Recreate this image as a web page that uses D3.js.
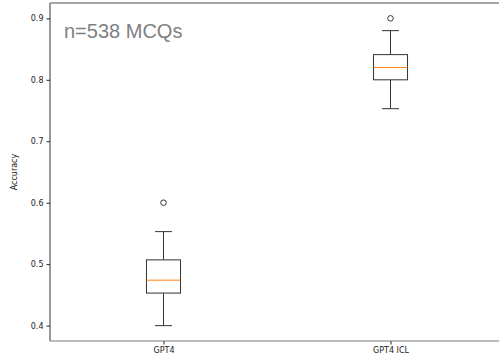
<!DOCTYPE html>
<html>
<head>
<meta charset="utf-8">
<script src="https://cdn.jsdelivr.net/npm/d3@7"></script>
<style>
  body { margin: 0; background: #fff; }
  svg { display: block; }
</style>
</head>
<body>
<div id="chart"></div>
<script>
// Box plot data
var categories = ["GPT4", "GPT4 ICL"];
var q1 = [0.453, 0.800];
var medians = [0.474, 0.820];
var q3 = [0.507, 0.841];
var whiskerLow = [0.400, 0.753];
var whiskerHigh = [0.553, 0.880];
var outliers = [[0.600], [0.900]];
var yTicks = [0.4, 0.5, 0.6, 0.7, 0.8, 0.9];

var W = 499, H = 360;
var margin = { top: 3, right: -5, bottom: 19, left: 50 };
var width = W - margin.left - margin.right,
  height = H - margin.top - margin.bottom;

var svg = d3.select("#chart")
  .append("svg")
  .attr("width", W)
  .attr("height", H)
  .append("g")
  .attr("transform", "translate(" + margin.left + "," + margin.top + ")");

// positions 1..n like matplotlib, xlim 0.5..n+0.5
var x = d3.scaleLinear()
  .domain([0.5, categories.length + 0.5])
  .range([0, width]);

var y = d3.scaleLinear()
  .domain([0.375, 0.925])
  .range([height, 0]);

var boxW = x(1.15) - x(1);
var capW = boxW / 2;
var ink = "#333";

var boxes = svg.selectAll(".box")
  .data(categories)
  .enter()
  .append("g")
  .attr("class", "box");

// whiskers
boxes.append("line")
  .attr("x1", (d, i) => x(i + 1)).attr("x2", (d, i) => x(i + 1))
  .attr("y1", (d, i) => y(q3[i])).attr("y2", (d, i) => y(whiskerHigh[i]))
  .attr("stroke", ink).attr("stroke-width", 1);
boxes.append("line")
  .attr("x1", (d, i) => x(i + 1)).attr("x2", (d, i) => x(i + 1))
  .attr("y1", (d, i) => y(q1[i])).attr("y2", (d, i) => y(whiskerLow[i]))
  .attr("stroke", ink).attr("stroke-width", 1);

// caps
boxes.append("line")
  .attr("x1", (d, i) => x(i + 1) - capW / 2).attr("x2", (d, i) => x(i + 1) + capW / 2)
  .attr("y1", (d, i) => y(whiskerHigh[i])).attr("y2", (d, i) => y(whiskerHigh[i]))
  .attr("stroke", ink).attr("stroke-width", 1);
boxes.append("line")
  .attr("x1", (d, i) => x(i + 1) - capW / 2).attr("x2", (d, i) => x(i + 1) + capW / 2)
  .attr("y1", (d, i) => y(whiskerLow[i])).attr("y2", (d, i) => y(whiskerLow[i]))
  .attr("stroke", ink).attr("stroke-width", 1);

// box
boxes.append("rect")
  .attr("x", (d, i) => x(i + 1) - boxW / 2)
  .attr("y", (d, i) => y(q3[i]))
  .attr("width", boxW)
  .attr("height", (d, i) => y(q1[i]) - y(q3[i]))
  .attr("fill", "none")
  .attr("stroke", ink).attr("stroke-width", 1);

// median
boxes.append("line")
  .attr("x1", (d, i) => x(i + 1) - boxW / 2).attr("x2", (d, i) => x(i + 1) + boxW / 2)
  .attr("y1", (d, i) => y(medians[i])).attr("y2", (d, i) => y(medians[i]))
  .attr("stroke", "#ff7f0e").attr("stroke-width", 1);

// fliers
boxes.each(function (d, i) {
  d3.select(this).selectAll("circle")
    .data(outliers[i])
    .enter()
    .append("circle")
    .attr("cx", x(i + 1))
    .attr("cy", v => y(v))
    .attr("r", 2.8)
    .attr("fill", "none")
    .attr("stroke", ink)
    .attr("stroke-width", 1);
});

// Axes
var yAxis = svg.append("g")
  .call(d3.axisLeft(y).tickValues(yTicks).tickFormat(d3.format(".1f")).tickSize(3.5).tickPadding(3));
var xAxis = svg.append("g")
  .attr("transform", "translate(0," + height + ")")
  .call(d3.axisBottom(x).tickValues([1, 2]).tickFormat((d, i) => categories[i]).tickSize(3.5).tickPadding(3));

[yAxis, xAxis].forEach(function (a) {
  a.style("color", "#222")
    .attr("font-family", "DejaVu Sans, sans-serif")
    .attr("font-size", 8);
  a.select(".domain").remove();
});

// Spines
svg.append("line").attr("x1", 0).attr("x2", 0).attr("y1", 0).attr("y2", height)
  .attr("stroke", "#333").attr("stroke-width", 1);
svg.append("line").attr("x1", 0).attr("x2", width).attr("y1", height).attr("y2", height)
  .attr("stroke", "#777").attr("stroke-width", 1);
svg.append("line").attr("x1", 0).attr("x2", width).attr("y1", 0).attr("y2", 0)
  .attr("stroke", "#888").attr("stroke-width", 1.5);

// Y label
svg.append("text")
  .attr("transform", "translate(-33," + (height / 2) + ")rotate(-90)")
  .attr("text-anchor", "middle")
  .style("font-family", "DejaVu Sans, sans-serif")
  .style("font-size", "8px")
  .style("fill", "#222")
  .text("Accuracy");

// Annotation
svg.append("text")
  .attr("x", 14)
  .attr("y", 35)
  .style("font-family", "Liberation Sans, Arial, sans-serif")
  .style("font-size", "20px")
  .style("fill", "#808080")
  .text("n=538 MCQs");
</script>
</body>
</html>
